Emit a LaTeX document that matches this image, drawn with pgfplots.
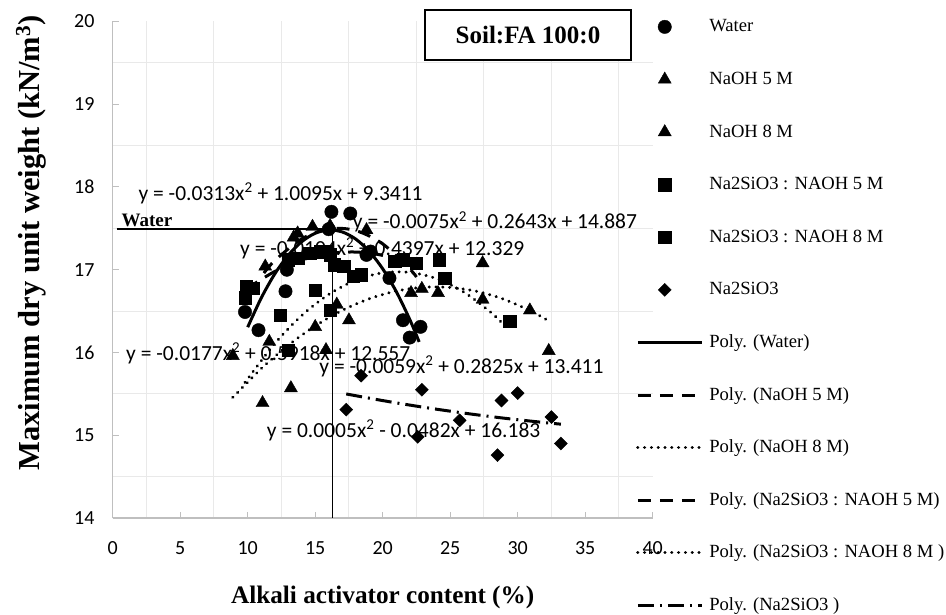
\documentclass[border=0pt]{standalone}
\usepackage{fontspec}
\setmainfont{Liberation Serif}
\newfontfamily\calfont{Carlito}
\usepackage{pgfplots}
\pgfplotsset{compat=1.18}
\begin{document}
\begin{tikzpicture}[x=1pt,y=1pt]
\useasboundingbox (0,0) rectangle (946,614);
\begin{axis}[
  scale only axis, width=540pt, height=496.5pt,
  at={(112.7pt,96pt)}, anchor=south west,
  xmin=0, xmax=40, ymin=14, ymax=20, clip=false,
  axis x line*=bottom, axis y line*=left,
  axis line style={draw=gray!50, line width=1.2pt},
  xtick={0,5,...,40}, ytick={14,15,...,20},
  minor xtick={2.5,7.5,...,37.5}, minor ytick={14.5,15.5,...,19.5},
  xminorgrids, yminorgrids, minor grid style={draw=gray!17, line width=1pt},
  tick align=inside, major tick length=6pt, minor tick length=0pt,
  major tick style={draw=gray!50, line width=1pt},
  tick label style={font=\calfont\fontsize{20}{20}\selectfont},
  /pgf/number format/assume math mode=true,
  xticklabel style={anchor=center, yshift=-30pt},
  yticklabel style={anchor=east, inner sep=0pt, xshift=-18pt},
  xlabel={Alkali activator content (\%)},
  ylabel={Maximum dry unit weight (kN/m\textsuperscript{3})},
  xlabel style={at={(axis description cs:0.5,-0.161)}, anchor=center, font=\bfseries\fontsize{25.2}{26}\selectfont},
  ylabel style={at={(axis description cs:-0.1513,0.554)}, anchor=center, font=\bfseries\fontsize{30.5}{31}\selectfont},
  legend style={at={(0.969,1.0077)}, anchor=north west, draw=none, fill=none, inner sep=0pt,
    row sep=34.6pt, column sep=6pt,
    nodes={inner sep=0pt, text height=14pt, text depth=4pt, font=\fontsize{18.6}{20}\selectfont}},
  legend cell align=left,
  scat/.style={only marks, mark options={solid, fill=black, draw=black},
    legend image code/.code={\path[draw=none, fill=none] (0pt,0pt) -- (64pt,0pt); \draw[##1] plot coordinates {(27pt,0pt)};}},
  trend/.style={black, line width=3pt, smooth, no marks,
    legend image code/.code={\draw[##1] (0pt,0pt) -- (64pt,0pt);}},
]
% ---- data ----
\addplot[scat, mark=*, mark size=6.7pt] coordinates {
 (9.8,16.49)(10.8,16.27)(12.8,16.74)(12.9,17.00)(16.0,17.49)(16.2,17.70)(17.6,17.68)
 (18.8,17.18)(19.1,17.22)(20.5,16.90)(21.5,16.39)(22.0,16.18)(22.8,16.31)};
\addlegendentry{Water}
\addplot[scat, mark=triangle*, mark size=7.5pt] coordinates {
 (11.3,17.04)(13.4,17.39)(13.7,17.44)(14.8,17.52)(16.1,17.53)(18.8,17.48)};
\addlegendentry{NaOH 5 M}
\addplot[scat, mark=triangle*, mark size=7.5pt] coordinates {
 (8.9,15.96)(11.1,15.39)(11.6,16.13)(13.2,15.57)(15.0,16.31)(15.8,16.03)(16.6,16.58)(17.5,16.39)
 (22.1,16.72)(22.9,16.77)(24.1,16.72)(27.4,16.64)(27.4,17.08)(30.9,16.51)(32.3,16.02)};
\addlegendentry{NaOH 8 M}
\addplot[scat, mark=square*, mark size=6.2pt] coordinates {
 (9.9,16.80)(10.4,16.78)(13.0,17.12)(13.7,17.14)(14.6,17.20)(15.4,17.22)(15.8,17.22)(16.1,17.18)
 (16.4,17.06)(17.1,17.04)(17.8,16.92)(18.4,16.94)(20.9,17.10)(21.5,17.12)(22.5,17.08)};
\addlegendentry{Na2SiO3 : NAOH 5 M}
\addplot[scat, mark=square*, mark size=6.2pt] coordinates {
 (9.8,16.66)(12.4,16.45)(13.0,16.03)(15.0,16.75)(16.1,16.51)(24.2,17.12)(24.6,16.90)(29.4,16.38)};
\addlegendentry{Na2SiO3 : NAOH 8 M}
\addplot[scat, mark=square*, mark size=4.6pt, mark options={rotate=45}] coordinates {
 (17.3,15.31)(18.4,15.72)(22.6,14.98)(22.9,15.55)(25.7,15.18)(28.5,14.76)(28.8,15.42)
 (30.0,15.51)(32.5,15.22)(33.2,14.90)};
\addlegendentry{Na2SiO3}
% ---- trend lines ----
\addplot[trend] coordinates {
 (10,16.306)(11,16.658)(12,16.948)(13,17.175)(14,17.339)(15,17.441)(16,17.480)(17,17.457)
 (18,17.371)(19,17.223)(20,17.011)(21,16.738)(22,16.401)(22.7,16.128)};
\addlegendentry{Poly. (Water)}
\addplot[trend, dash pattern=on 13pt off 9pt] coordinates {
 (11.2,16.96)(12,17.110)(14,17.373)(16,17.495)(18,17.474)(20,17.313)(22,17.010)(22.5,16.912)};
\addlegendentry{Poly. (NaOH 5 M)}
\addplot[trend, line cap=round, line width=3.2pt, dash pattern=on 0.1pt off 6.7pt] coordinates {
 (8.9,15.458)(11,15.805)(13,16.087)(15,16.321)(17,16.509)(19,16.649)(21,16.742)(23,16.788)
 (25,16.786)(27,16.738)(29,16.642)(31,16.499)(32.25,16.386)};
\addlegendentry{Poly. (NaOH 8 M)}
\addplot[trend, dash pattern=on 13pt off 9pt] coordinates {
 (9.9,16.769)(12,16.979)(14,17.117)(16,17.196)(18,17.214)(20,17.173)(22.5,17.037)};
\addlegendentry{Poly. (Na2SiO3 : NAOH 5 M)}
\addplot[trend, line cap=round, line width=3.2pt, dash pattern=on 0.1pt off 6.7pt] coordinates {
 (9.8,15.639)(12,16.107)(14,16.447)(16,16.702)(18,16.874)(20,16.963)(22,16.968)(24,16.892)
 (26,16.731)(28,16.487)(29.4,16.267)};
\addlegendentry{Poly. (Na2SiO3 : NAOH 8 M )}
\addplot[trend, dash pattern=on 16pt off 6pt on 2pt off 6pt] coordinates {
 (17.3,15.499)(20,15.419)(23,15.339)(26,15.268)(29,15.206)(32,15.153)(33.2,15.134)};
\addlegendentry{Poly. (Na2SiO3 )}
% ---- water reference lines ----
\addplot[black, line width=1.6pt, forget plot] coordinates {(0.3,17.49)(16.27,17.49)(16.27,14)};
\node[anchor=south west, inner sep=0pt, font=\bfseries\fontsize{19}{20}\selectfont] at (axis cs:0.65,17.52) {Water};
% ---- equations ----
\begin{scope}[every node/.style={anchor=west, inner sep=0pt, font=\calfont\fontsize{21.5}{22}\selectfont}]
\node at (axis cs:1.90,17.924) {y = -0.0313x\textsuperscript{2} + 1.0095x + 9.3411};
\node at (axis cs:17.78,17.58) {y = -0.0075x\textsuperscript{2} + 0.2643x + 14.887};
\node at (axis cs:9.43,17.26) {y = -0.0104x\textsuperscript{2} + 0.4397x + 12.329};
\node at (axis cs:0.985,15.99) {y = -0.0177x\textsuperscript{2} + 0.5918x + 12.557};
\node at (axis cs:15.30,15.83) {y = -0.0059x\textsuperscript{2} + 0.2825x + 13.411};
\node at (axis cs:11.41,15.06) {y = 0.0005x\textsuperscript{2} - 0.0482x + 16.183};
\end{scope}
\end{axis}
\node[draw=black, fill=white, line width=1.8pt, minimum width=206pt, minimum height=50pt,
  font=\bfseries\fontsize{25}{25}\selectfont] at (528,579) {Soil:FA 100:0};
\end{tikzpicture}
\end{document}
